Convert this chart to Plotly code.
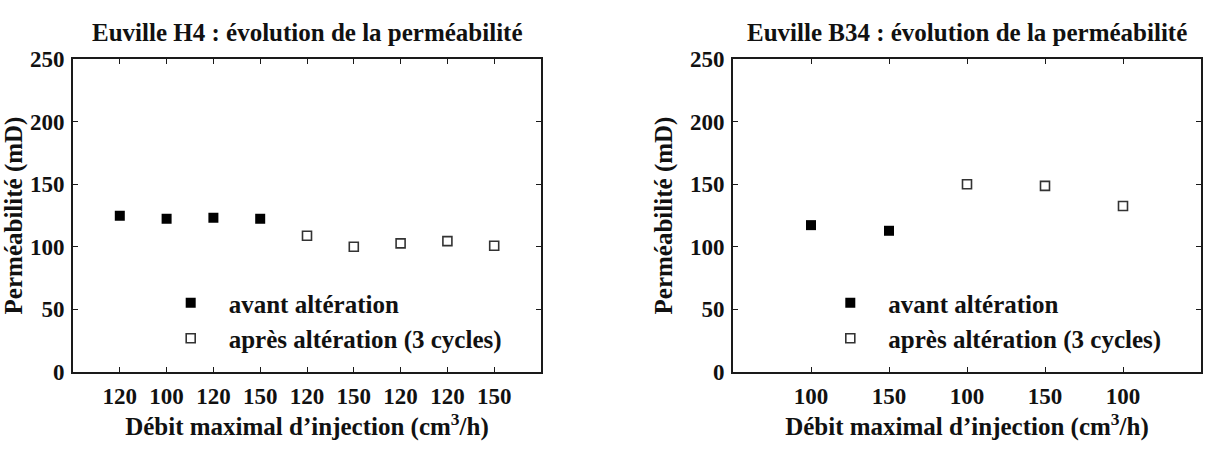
import plotly.graph_objects as go

# ---------------- data ----------------
h4_positions_before = [1, 2, 3, 4]
h4_values_before = [124.8, 122.4, 123.2, 122.4]
h4_positions_after = [5, 6, 7, 8, 9]
h4_values_after = [108.8, 100.0, 102.7, 104.5, 100.8]
h4_tick_labels = ["120", "100", "120", "150", "120", "150", "120", "120", "150"]

b34_positions_before = [1, 2]
b34_values_before = [117.3, 112.8]
b34_positions_after = [3, 4, 5]
b34_values_after = [150.0, 148.7, 132.6]
b34_tick_labels = ["100", "150", "100", "150", "100"]

y_ticks = [0, 50, 100, 150, 200, 250]

legend_before = "avant altération"
legend_after = "après altération (3 cycles)"
title_h4 = "Euville H4 : évolution de la perméabilité"
title_b34 = "Euville B34 : évolution de la perméabilité"
x_title = "Débit maximal d’injection (cm<sup>3</sup>/h)"
y_title = "Perméabilité (mD)"

# ---------------- layout constants ----------------
W, H = 1206, 453
FONT = "Liberation Serif"
TXT = "#111111"
TEXT_SIZE = 25
TICK_SIZE = 23


def px_x(p):
    return p / W


def px_y(p):
    return 1 - p / H


def b(s):
    return "<b>" + s + "</b>"


fig = go.Figure()

filled = dict(symbol="square", size=10, color="#000000", line=dict(width=0))
opened = dict(symbol="square-open", size=9, color="#333333", line=dict(width=1.6, color="#333333"))

fig.add_trace(go.Scatter(x=h4_positions_before, y=h4_values_before, mode="markers",
                         marker=filled, name=b(legend_before), xaxis="x", yaxis="y", legend="legend"))
fig.add_trace(go.Scatter(x=h4_positions_after, y=h4_values_after, mode="markers",
                         marker=opened, name=b(legend_after), xaxis="x", yaxis="y", legend="legend"))
fig.add_trace(go.Scatter(x=b34_positions_before, y=b34_values_before, mode="markers",
                         marker=filled, name=b(legend_before), xaxis="x2", yaxis="y2", legend="legend2"))
fig.add_trace(go.Scatter(x=b34_positions_after, y=b34_values_after, mode="markers",
                         marker=opened, name=b(legend_after), xaxis="x2", yaxis="y2", legend="legend2"))

top, bottom = 59, 372
ax1 = (73, 541)
ax2 = (733, 1201)

common_axis = dict(showline=True, linecolor="#1a1a1a", linewidth=2, mirror="ticks",
                   ticks="inside", ticklen=5, tickwidth=1.2, tickcolor="#1a1a1a",
                   showgrid=False, zeroline=False, automargin=False,
                   tickfont=dict(family=FONT, size=TICK_SIZE, color=TXT))

title_font = dict(family=FONT, size=TEXT_SIZE, color=TXT)


def x_axis(domain, labels, anchor):
    return dict(domain=domain, range=[0, len(labels) + 1],
                tickvals=list(range(1, len(labels) + 1)), ticktext=[b(t) for t in labels],
                anchor=anchor, title=dict(text=b(x_title), font=title_font, standoff=6),
                ticklabelstandoff=2, **common_axis)


def y_axis(anchor):
    return dict(domain=[px_y(bottom), px_y(top)], range=[0, 250],
                tickvals=y_ticks, ticktext=[b(str(v)) for v in y_ticks], anchor=anchor,
                title=dict(text=b(y_title), font=title_font, standoff=10),
                ticklabelstandoff=2, **common_axis)


legend_common = dict(xanchor="left", yanchor="top", bgcolor="rgba(0,0,0,0)", borderwidth=0,
                     itemwidth=66, font=title_font, tracegroupgap=0)

fig.update_layout(
    width=W, height=H,
    margin=dict(l=0, r=0, t=0, b=0),
    paper_bgcolor="white", plot_bgcolor="white",
    font=dict(family=FONT, color=TXT),
    showlegend=True,
    xaxis=x_axis([px_x(ax1[0]), px_x(ax1[1])], h4_tick_labels, "y"),
    yaxis=y_axis("x"),
    xaxis2=x_axis([px_x(ax2[0]), px_x(ax2[1])], b34_tick_labels, "y2"),
    yaxis2=y_axis("x2"),
    legend=dict(x=px_x(192.7 - 40), y=px_y(280), **legend_common),
    legend2=dict(x=px_x(852.3 - 40), y=px_y(280), **legend_common),
    annotations=[
        dict(text=b(title_h4), x=px_x((ax1[0] + ax1[1]) / 2), y=px_y(32),
             xref="paper", yref="paper", xanchor="center", yanchor="middle", showarrow=False,
             font=title_font),
        dict(text=b(title_b34), x=px_x((ax2[0] + ax2[1]) / 2), y=px_y(32),
             xref="paper", yref="paper", xanchor="center", yanchor="middle", showarrow=False,
             font=title_font),
    ],
)

fig.write_html("out.html")
